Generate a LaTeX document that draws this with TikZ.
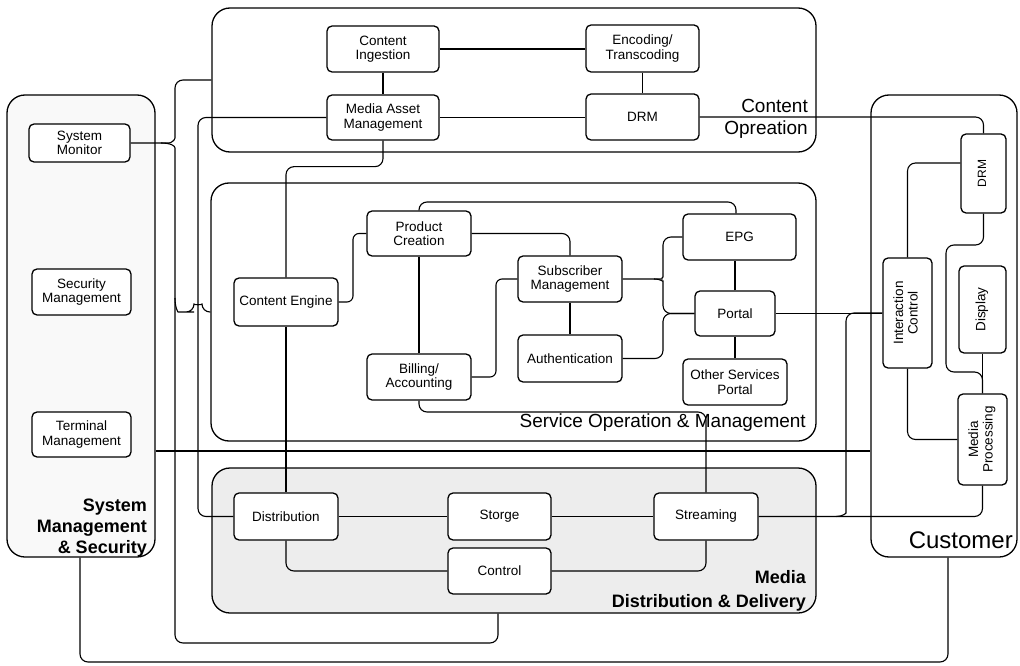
\documentclass[tikz,border=0pt]{standalone}
\usepackage{fontspec}
\setmainfont{Liberation Sans}
\usepackage{graphicx}
\pgfdeclarelayer{back}
\pgfdeclarelayer{bg}
\pgfsetlayers{back,bg,main}
\tikzset{
    every node/.style={inner sep=0pt},
    blk/.style 2 args={draw, rounded corners=5pt, fill=white, line width=1.3pt, align=center, minimum width=#1pt, minimum height=#2pt, font=\fontsize{13.5}{14.5}\selectfont},
    grp/.style 2 args={draw, rounded corners=18pt, line width=1.3pt, minimum width=#1pt, minimum height=#2pt},
    wire/.style={line width=1.1pt, rounded corners=8pt},
    grplbl/.style={align=right}
}
\newcommand{\vlbl}[1]{\rotatebox{90}{\begin{tabular}{@{}c@{}}#1\end{tabular}}}

\begin{document}
\begin{tikzpicture}[x=1pt, y=-1pt]
        \useasboundingbox (0,0) rectangle (1020,666);
        \begin{pgfonlayer}{back}
                \node[grp={148}{462}, fill=gray!5] (sys) at (81,326) {};
                \node[grp={604}{144}] (co) at (514,80) {};
                \node[grp={605}{258}] (so) at (513.5,312) {};
                \node[grp={604}{145}, fill=gray!14] (md) at (514,540.5) {};
                \node[grp={146}{462}] (cu) at (944,326) {};
        \end{pgfonlayer}
        \node[blk={101}{38}] (sm) at (79.5,143) {System\\Monitor};
        \node[blk={99}{46}] (secm) at (81.5,292) {Security\\Management};
        \node[blk={99}{45}] (tm) at (81.5,434.5) {Terminal\\Management};
        \node[blk={112}{46}] (ci) at (383,49) {Content\\Ingestion};
        \node[blk={112}{45}] (mam) at (383,117.5) {Media Asset\\Management};
        \node[blk={113}{47}] (enc) at (642.5,48.5) {Encoding/\\Transcoding};
        \node[blk={113}{46}] (drm) at (642.5,117) {DRM};
        \node[blk={104}{48}] (ce) at (286,302) {Content Engine};
        \node[blk={104}{45}] (pc) at (419,233.5) {Product\\Creation};
        \node[blk={104}{46}] (ba) at (419,377) {Billing/\\Accounting};
        \node[blk={104}{46}] (sub) at (570,279) {Subscriber\\Management};
        \node[blk={104}{47}] (auth) at (570,358.5) {Authentication};
        \node[blk={113}{46}] (epg) at (739.5,237) {EPG};
        \node[blk={80}{45}] (portal) at (735,313.5) {Portal};
        \node[blk={104}{46}] (osp) at (735,382) {Other Services\\Portal};
        \node[blk={45}{79}, font=\fontsize{12}{13}\selectfont] (cdrm) at (983.5,173.5) {\vlbl{DRM}};
        \node[blk={49}{110}] (ic) at (907.5,313) {\vlbl{Interaction\\Control}};
        \node[blk={47}{87}] (disp) at (982.5,309.5) {\vlbl{Display}};
        \node[blk={49}{91}] (mp) at (982.5,439.5) {\vlbl{Media\\Processing}};
        \node[blk={104}{47}] (dist) at (286,516.5) {Distribution};
        \node[blk={103}{47}] (stor) at (499.5,516.5) {Storge};
        \node[blk={103}{46}] (ctrl) at (499.5,571) {Control};
        \node[blk={104}{47}] (strm) at (706,516.5) {Streaming};
        \node[grplbl, anchor=south east, font=\bfseries\fontsize{18}{21}\selectfont] (lblsys) at (147,557) {System\\Management\\\& Security};
        \node[grplbl, anchor=south east, font=\fontsize{19}{22}\selectfont] (lblco) at (808,139) {Content\\Opreation};
        \node[anchor=base east, font=\fontsize{19}{22}\selectfont] (lblso) at (806,427) {Service Operation \& Management};
        \node[grplbl, anchor=south east, font=\bfseries\fontsize{18}{24}\selectfont] (lblmd) at (806,611) {Media\\Distribution \& Delivery};
        \node[anchor=base east, font=\fontsize{24}{26}\selectfont] (lblcu) at (1013,548) {Customer};
        \begin{pgfonlayer}{bg}
                \draw[wire] (ci.east) -- (enc.west |- ci.east);
                \draw[wire] (ci) -- (mam);
                \draw[wire] (enc) -- (drm);
                \draw[wire] (mam.east) -- (drm.west |- mam.east);
                \draw[wire] (drm.east) -| (cdrm.north);
                \draw[wire] (mam.west) -| (198,300) |- (dist.west);
                \draw[wire] (mam.south) -- ++(0,26) -| (ce.north);
                \draw[wire] (ce) -- (dist);
                \draw[wire] (sm.east) -- (161,143) .. controls (171,143) and (175,140) .. (175,130) |- (co.west);
                \draw[wire] (161,143) .. controls (171,143) and (175,146) .. (175,156) |- (498,643) -- (498,0 |- md.south);
                \draw[wire] (175,298) .. controls (175,308) and (178,312) .. (186,312) -- (194,312) .. controls (194,305) and (202,305) .. (202,312) -- (so.west);
                \draw[wire] (sys.east |- 0,451) -- (cu.west |- 0,451);
                \draw[wire] (80,0 |- sys.south) |- (948,662) -- (948,0 |- cu.south);
                \draw[wire, rounded corners=6pt] (ce.east) -| (353,260) |- (pc.west);
                \draw[wire] (pc) -- (ba);
                \draw[wire] (pc.north) |- (736,202) -- (736,0 |- epg.north);
                \draw[wire] (pc.east) -| (sub.north);
                \draw[wire, rounded corners=6pt] (ba.east) -| (496,300) |- (sub.west);
                \draw[wire] (ba.south) |- (706,412) -- (strm.north);
                \draw[wire] (sub) -- (auth);
                \draw[wire] (sub.east) -- (654,279) .. controls (661,279) and (663,276) .. (663,269) |- (epg.west);
                \draw[wire] (654,279) .. controls (661,279) and (663,282) .. (663,289) |- (portal.west);
                \draw[wire] (auth.east) -| (663,330) |- (portal.west);
                \draw[wire] (portal.north) -- (portal.north |- epg.south);
                \draw[wire] (portal.south) -- (portal.south |- osp.north);
                \draw[wire] (portal.east) -- (ic.west |- portal.east);
                \draw[wire] (dist) -- (stor);
                \draw[wire] (stor) -- (strm);
                \draw[wire] (dist.south) |- (ctrl.west);
                \draw[wire] (strm.south) |- (ctrl.east);
                \draw[wire] (strm.east) -| (mp.south);
                \draw[wire] (836,516.5) .. controls (843,516.5) and (846,513) .. (846,505) |- (ic.west);
                \draw[wire] (cdrm.west |- 0,163) -| (ic.north);
                \draw[wire] (cdrm.south) |- (946,245) |- (mp.north |- 0,372) -- (mp.north);
                \draw[wire] (disp) -- (mp);
                \draw[wire] (ic.south) |- (mp.west);
        \end{pgfonlayer}
\end{tikzpicture}
\end{document}
